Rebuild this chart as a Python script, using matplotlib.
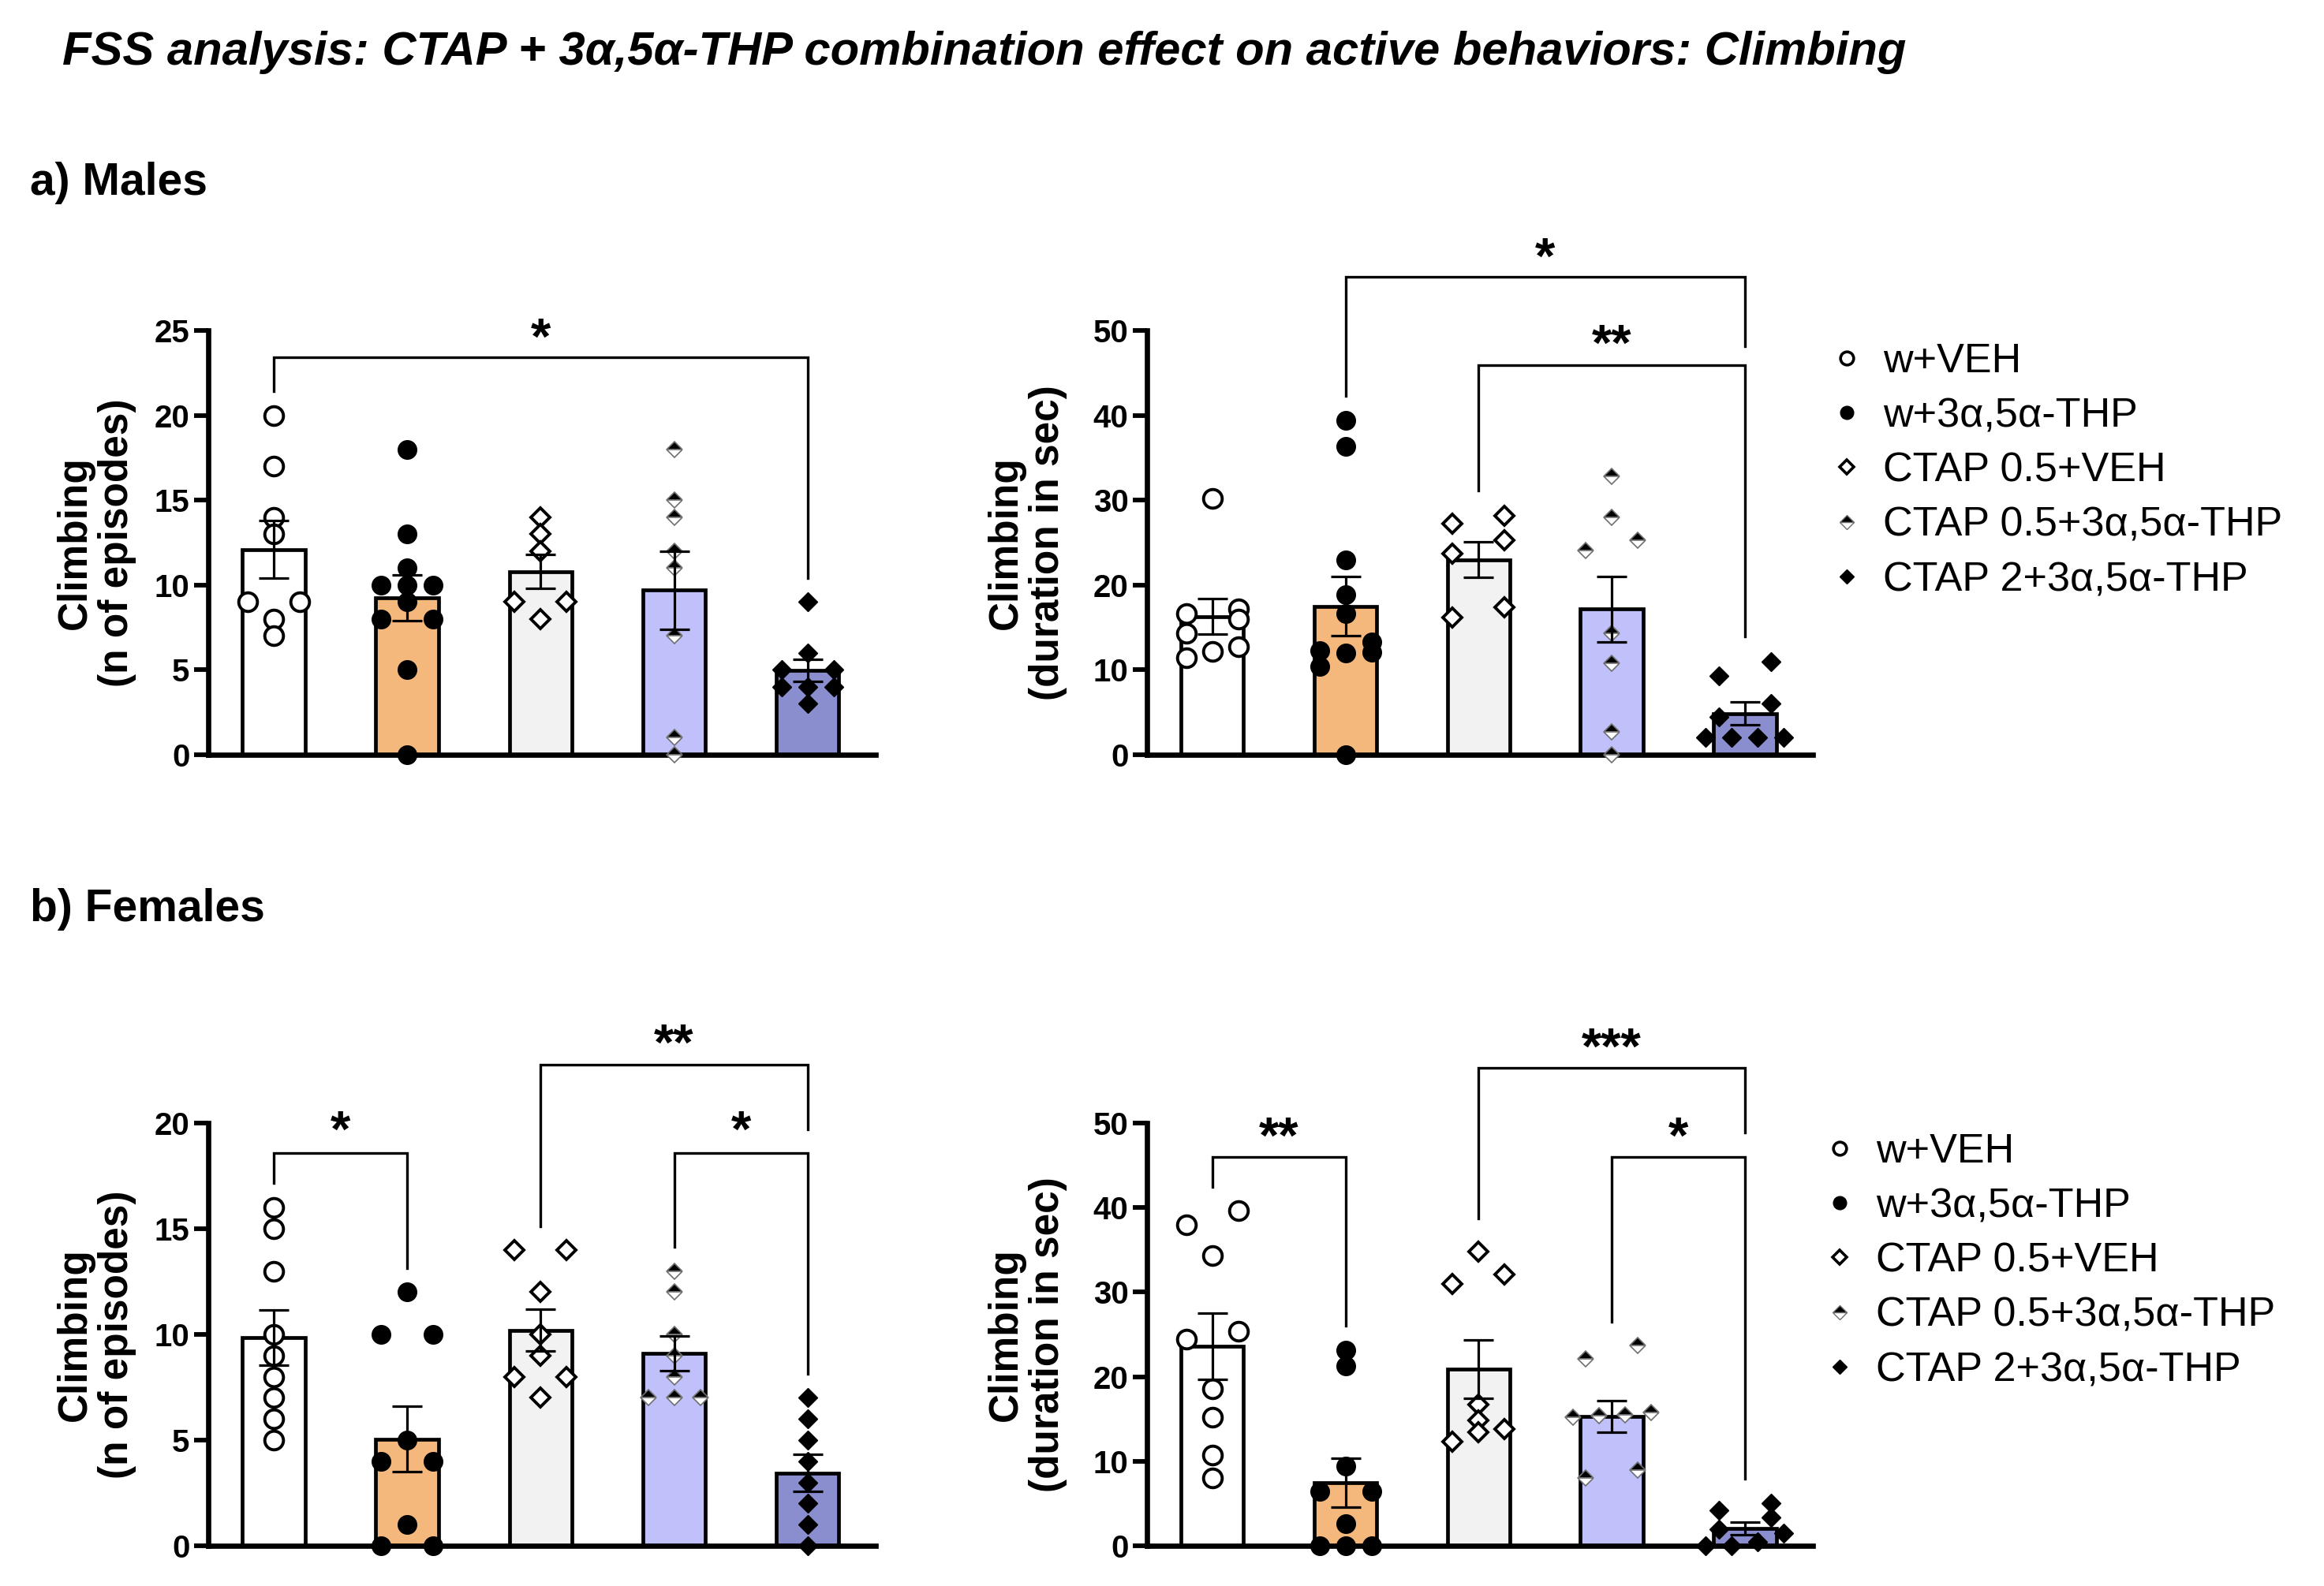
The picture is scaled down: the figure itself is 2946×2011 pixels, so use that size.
import matplotlib
matplotlib.use('Agg')
import matplotlib.pyplot as plt
from matplotlib.lines import Line2D
import numpy as np

plt.rcParams['font.family'] = ['Liberation Sans', 'DejaVu Sans']

# ---------------- data ----------------
groups = ['w+VEH', 'w+3α,5α-THP', 'CTAP 0.5+VEH', 'CTAP 0.5+3α,5α-THP', 'CTAP 2+3α,5α-THP']
bar_colors = ['#FFFFFF', '#F4B87C', '#F2F2F2', '#C0C0FA', '#8A8ECF']

# a) Males - number of episodes
m_ep_mean = [12.1, 9.25, 10.8, 9.7, 4.95]
m_ep_sem = [1.7, 1.35, 1.0, 2.3, 0.65]
m_ep_pts = [[20, 17, 14, 13, 9, 9, 8, 7],
            [18, 13, 11, 10, 10, 10, 9, 8, 8, 5, 0],
            [14, 13, 12, 9, 9, 8],
            [18, 15, 14, 12, 11, 7, 1, 0],
            [9, 6, 5, 5, 4, 4, 4, 3]]

# a) Males - duration (sec)
m_du_mean = [16.3, 17.5, 23.0, 17.15, 4.85]
m_du_sem = [2.1, 3.5, 2.05, 3.85, 1.35]
m_du_pts = [[30.2, 17.2, 16.6, 16.0, 14.3, 12.7, 12.2, 11.4],
            [39.4, 36.3, 23.0, 18.9, 16.6, 13.3, 12.3, 12.1, 12.0, 10.4, 0],
            [28.2, 27.2, 25.3, 23.7, 17.4, 16.2],
            [32.8, 28.0, 25.3, 24.1, 14.3, 10.8, 2.7, 0],
            [11.0, 9.3, 6.0, 4.5, 2.0, 2.0, 2.0, 2.0]]

# b) Females - number of episodes
f_ep_mean = [9.85, 5.05, 10.2, 9.1, 3.45]
f_ep_sem = [1.32, 1.54, 0.98, 0.81, 0.86]
f_ep_pts = [[16, 15, 13, 10, 9, 8, 7, 6, 5],
            [12, 10, 10, 5, 4, 4, 1, 0, 0],
            [14, 14, 12, 10, 9, 8, 8, 7],
            [13, 12, 10, 9, 8, 7, 7, 7],
            [7, 6, 5, 4, 3, 2, 1, 0]]

# b) Females - duration (sec)
f_du_mean = [23.6, 7.5, 20.9, 15.3, 2.05]
f_du_sem = [3.9, 2.9, 3.45, 1.9, 0.72]
f_du_pts = [[39.6, 38.0, 34.3, 25.4, 24.4, 18.6, 15.2, 10.7, 8.0],
            [23.1, 21.3, 9.4, 6.4, 6.4, 2.6, 0, 0, 0],
            [34.8, 32.1, 31.0, 16.7, 14.8, 13.8, 13.4, 12.3],
            [23.7, 22.1, 15.8, 15.5, 15.4, 15.2, 9.0, 8.0],
            [5.0, 4.2, 3.4, 2.0, 1.5, 0.5, 0, 0]]

# significance brackets: (group i, group j, bracket y, left leg bottom, right leg bottom, label, star y)
m_ep_sig = [(0, 4, 23.4, 21.4, 10.4, '*', 24.9)]
m_du_sig = [(1, 4, 56.3, 42.3, 48.1, '*', 59.3),
            (2, 4, 45.9, 31.1, 13.9, '**', 49.0)]
f_ep_sig = [(0, 1, 18.6, 17.17, 13.13, '*', 19.9),
            (2, 4, 22.75, 15.13, 19.7, '**', 24.0),
            (3, 4, 18.6, 14.13, 8.13, '*', 19.9)]
f_du_sig = [(0, 1, 46.0, 42.44, 26.0, '**', 49.0),
            (2, 4, 56.5, 38.7, 48.9, '***', 59.6),
            (3, 4, 46.0, 26.45, 7.97, '*', 49.0)]

ep_ylabel = 'Climbing\n(n of episodes)'
du_ylabel = 'Climbing\n(duration in sec)'
title = 'FSS analysis: CTAP + 3α,5α-THP combination effect on active behaviors: Climbing'

# ---------------- styles ----------------
W, H = 2946, 2011
DPI = 100
fig = plt.figure(figsize=(W / DPI, H / DPI), dpi=DPI)

marker_styles = [
    dict(marker='o', ms=17, mfc='white', mec='black', mew=2.8),
    dict(marker='o', ms=17, mfc='black', mec='black', mew=1.0),
    dict(marker='D', ms=12.5, mfc='white', mec='black', mew=2.8),
    dict(marker='D', ms=10.5, mfc='black', mfcalt='white', fillstyle='top', mec='#707070', mew=1.2),
    dict(marker='D', ms=12.5, mfc='black', mec='black', mew=1.0),
]

XLIM = (-0.49, 4.51)
BAR_W = 0.47
STAR_FS = 47


def rows_offsets(vals, bin_h):
    """GraphPad-like scatter spreading: points with close values share a row."""
    order = np.argsort(vals, kind='stable')
    offs = np.zeros(len(vals))
    i = 0
    while i < len(order):
        start = vals[order[i]]
        j = i
        while j < len(order) and vals[order[j]] - start < bin_h:
            j += 1
        n = j - i
        if n == 1:
            slots = [0.0]
        elif n == 2:
            slots = [-1.0, 1.0]
        else:
            slots = list(np.arange(n) - (n - 1) / 2.0)
        for k, idx in enumerate(order[i:j]):
            offs[idx] = slots[k]
        i = j
    return offs


def panel(rect, means, sems, pts, ytop, step, ylabel, sigs, label_x):
    ax = fig.add_axes(rect)
    x = np.arange(len(means))
    ax.bar(x, means, width=BAR_W, color=bar_colors, edgecolor='black',
           linewidth=3.4, zorder=1)
    ax_h_px = rect[3] * H
    ax_w_px = rect[2] * W
    bin_h = 19.0 * ytop / ax_h_px
    slot = 33.0 * (XLIM[1] - XLIM[0]) / ax_w_px
    for i, vals in enumerate(pts):
        vals = np.asarray(vals, dtype=float)
        offs = rows_offsets(vals, bin_h)
        ax.plot(x[i] + offs * slot, vals, linestyle='none', zorder=3,
                clip_on=False, **marker_styles[i])
    ax.errorbar(x, means, yerr=sems, fmt='none', ecolor='black', elinewidth=2.3,
                capsize=14, capthick=2.3, zorder=4)
    ax.set_xlim(*XLIM)
    ax.set_ylim(0, ytop)
    ax.set_yticks(np.arange(0, ytop + 0.1, step))
    ax.set_xticks([])
    for s in ['top', 'right']:
        ax.spines[s].set_visible(False)
    ax.spines['left'].set_linewidth(4.8)
    ax.spines['bottom'].set_linewidth(4.8)
    ax.spines['left'].set_bounds(0, ytop)
    ax.tick_params(axis='y', length=13, width=4.2, pad=4, labelsize=29)
    for t in ax.get_yticklabels():
        t.set_fontweight('bold')
    ax.text(label_x, 0.5, ylabel, transform=ax.transAxes, rotation=90,
            ha='center', va='center', multialignment='center',
            fontsize=37, fontweight='bold', linespacing=1.1)
    for (i, j, yb, yl, yr, lab, ys) in sigs:
        ax.plot([i, i, j, j], [yl, yb, yb, yr], color='black', lw=2.4,
                clip_on=False, solid_joinstyle='miter', zorder=5)
        ax.annotate(lab, xy=((i + j) / 2.0, ys), xytext=(0, -0.42 * STAR_FS),
                    textcoords='offset points', ha='center', va='baseline',
                    fontsize=STAR_FS, fontweight='bold', annotation_clip=False)
    return ax


def frac_rect(left_px, right_px, top_px, bottom_px):
    return [left_px / W, 1 - bottom_px / H, (right_px - left_px) / W, (bottom_px - top_px) / H]


panel(frac_rect(264, 1110, 419, 957), m_ep_mean, m_ep_sem, m_ep_pts, 25, 5, ep_ylabel, m_ep_sig, -0.168)
panel(frac_rect(1454, 2298, 419, 957), m_du_mean, m_du_sem, m_du_pts, 50, 10, du_ylabel, m_du_sig, -0.18)
panel(frac_rect(264, 1110, 1424, 1960), f_ep_mean, f_ep_sem, f_ep_pts, 20, 5, ep_ylabel, f_ep_sig, -0.168)
panel(frac_rect(1454, 2298, 1424, 1960), f_du_mean, f_du_sem, f_du_pts, 50, 10, du_ylabel, f_du_sig, -0.18)

# legends
leg_marker_styles = [
    dict(marker='o', ms=12, mfc='white', mec='black', mew=2.6),
    dict(marker='o', ms=12, mfc='black', mec='black', mew=1.0),
    dict(marker='D', ms=9.5, mfc='white', mec='black', mew=2.6),
    dict(marker='D', ms=9, mfc='black', mfcalt='white', fillstyle='top', mec='#707070', mew=1.0),
    dict(marker='D', ms=9.5, mfc='black', mec='black', mew=1.0),
]
handles = [Line2D([], [], linestyle='none', **st) for st in leg_marker_styles]
for (lx, ty) in [(2318, 434), (2309, 1436)]:
    fig.legend(handles, groups, loc='upper left', bbox_to_anchor=(lx / W, 1 - ty / H),
               frameon=False, fontsize=37.5, handlelength=0.9, handletextpad=0.42,
               labelspacing=0.39, borderpad=0, borderaxespad=0)

# titles
fig.text(79 / W, 1 - 66 / H, title, fontsize=43, fontweight='bold', style='italic',
         ha='left', va='center')
fig.text(38 / W, 1 - 232 / H, 'a) Males', fontsize=41, fontweight='bold', ha='left', va='center')
fig.text(38 / W, 1 - 1153 / H, 'b) Females', fontsize=41, fontweight='bold', ha='left', va='center')

fig.savefig('out.png', dpi=DPI, facecolor='white')
